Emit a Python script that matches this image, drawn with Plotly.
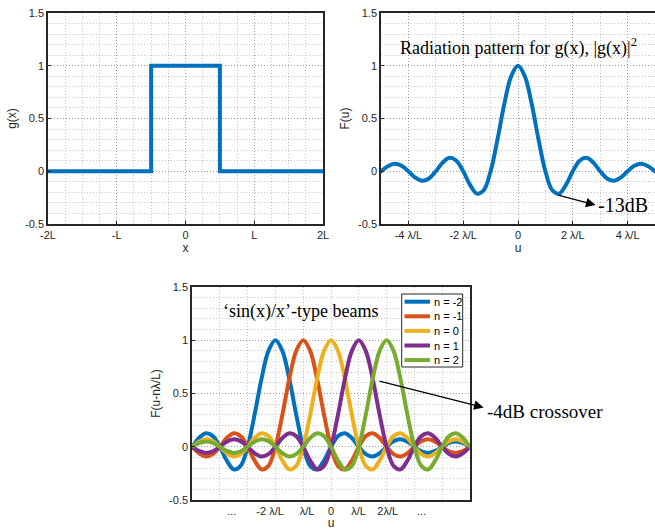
import plotly.graph_objects as go

# ---------------- data ----------------
# aperture g(x), x in units of L
g_x = [-2.0, -0.5, -0.5, 0.5, 0.5, 2.0]
g_y = [0.0, 0.0, 1.0, 1.0, 0.0, 0.0]
g_ticks = [-2, -1, 0, 1, 2]
g_ticktext = ["-2L", "-L", "0", "L", "2L"]

# radiation pattern F(u), u in units of lambda/L
u_samples = [-7.0, -6.75, -6.5, -6.25, -6.0, -5.75, -5.5, -5.25, -5.0, -4.75, -4.5, -4.25,
             -4.0, -3.75, -3.5, -3.25, -3.0, -2.75, -2.5, -2.25, -2.0, -1.75, -1.5, -1.25,
             -1.0, -0.75, -0.5, -0.25, 0.0, 0.25, 0.5, 0.75, 1.0, 1.25, 1.5, 1.75,
             2.0, 2.25, 2.5, 2.75, 3.0, 3.25, 3.5, 3.75, 4.0, 4.25, 4.5, 4.75,
             5.0, 5.25, 5.5, 5.75, 6.0, 6.25, 6.5, 6.75, 7.0]
F_values = [0.000, 0.033, 0.049, 0.036, 0.000, -0.039, -0.058, -0.043, 0.000, 0.047, 0.071, 0.053,
            0.000, -0.060, -0.091, -0.069, 0.000, 0.082, 0.127, 0.100, 0.000, -0.129, -0.212, -0.180,
            0.000, 0.300, 0.637, 0.900, 1.000, 0.900, 0.637, 0.300, 0.000, -0.180, -0.212, -0.129,
            0.000, 0.100, 0.127, 0.082, 0.000, -0.069, -0.091, -0.060, 0.000, 0.053, 0.071, 0.047,
            0.000, -0.043, -0.058, -0.039, 0.000, 0.036, 0.049, 0.033, 0.000]
F_ticks = [-4, -2, 0, 2, 4]
F_ticktext = ["-4 λ/L", "-2 λ/L", "0", "2 λ/L", "4 λ/L"]

# beams
beam_n = [-2, -1, 0, 1, 2]
beam_names = ["n = -2", "n = -1", "n = 0", "n = 1", "n = 2"]
beam_colors = ["#0072BD", "#D95319", "#EDB120", "#7E2F8E", "#77AC30"]
beam_ticks = [-3.57, -2.19, -0.86, 0, 0.99, 2.04, 3.26]
beam_ticktext = ["...", "-2 λ/L", "λ/L", "0", "λ/L", "2λ/L", "..."]

y_ticks = [-0.5, 0, 0.5, 1, 1.5]
y_ticktext = ["-0.5", "0", "0.5", "1", "1.5"]

# ---------------- figure ----------------
W, H = 655, 530
SANS = "Liberation Sans, Arial, sans-serif"
SERIF = "Liberation Serif, Times New Roman, serif"
AX = "#262626"
GRID = "rgba(0,0,0,0.22)"
GDASH = "1px,2px"
LW = 4

fig = go.Figure()

fig.add_trace(go.Scatter(x=g_x, y=g_y, mode="lines", xaxis="x", yaxis="y",
                         line=dict(color="#0072BD", width=LW), showlegend=False))
fig.add_trace(go.Scatter(x=u_samples, y=F_values, mode="lines", xaxis="x2", yaxis="y2",
                         line=dict(color="#0072BD", width=LW, shape="spline", smoothing=1),
                         showlegend=False))
for n, name, col in zip(beam_n, beam_names, beam_colors):
    fig.add_trace(go.Scatter(x=[u + n for u in u_samples], y=F_values, mode="lines",
                             xaxis="x3", yaxis="y3", name=name, showlegend=False,
                             line=dict(color=col, width=LW, shape="spline", smoothing=1)))


def px(xp):
    return min(xp / W, 1.0)


def py(yp):
    return 1 - yp / H


def px_dom(a, b):
    return [px(a), px(b)]


def ydom(top, bottom):
    return [py(bottom), py(top)]


common = dict(showline=True, mirror=True, linecolor=AX, linewidth=1.5, automargin=False,
              tickfont=dict(family=SANS, size=11, color=AX),
              zeroline=False, ticks="inside", ticklen=3, tickcolor=AX,
              showgrid=True, gridcolor=GRID, griddash=GDASH, gridwidth=1)


def minor(dt):
    return dict(dtick=dt, tick0=0, showgrid=True, gridcolor=GRID, griddash=GDASH, ticks="")


def yax(anchor, dom, title):
    return dict(common, anchor=anchor, domain=dom, range=[-0.5, 1.5],
                tickvals=y_ticks, ticktext=y_ticktext,
                title=dict(text=title, font=dict(family=SANS, size=12, color=AX), standoff=6),
                minor=minor(0.1))


def xtitle(t):
    return dict(text=t, font=dict(family=SANS, size=12, color=AX), standoff=3)


fig.update_layout(
    width=W, height=H, margin=dict(l=0, r=0, t=0, b=0),
    paper_bgcolor="white", plot_bgcolor="white", showlegend=False,
    xaxis=dict(common, anchor="y", domain=px_dom(48, 323), range=[-2, 2],
               tickvals=g_ticks, ticktext=g_ticktext, title=xtitle("x"), minor=minor(0.25)),
    yaxis=yax("x", ydom(13, 224), "g(x)"),
    xaxis2=dict(common, anchor="y2", domain=px_dom(381, 656), range=[-5, 5],
                tickvals=F_ticks, ticktext=F_ticktext, title=xtitle("u"), minor=minor(1)),
    yaxis2=yax("x2", ydom(13, 224), "F(u)"),
    xaxis3=dict(common, anchor="y3", domain=px_dom(192, 470), range=[-5, 5],
                tickvals=beam_ticks, ticktext=beam_ticktext, ticks="", showgrid=False,
                title=xtitle("u"), minor=minor(1)),
    yaxis3=yax("x3", ydom(287, 500), "F(u-nλ/L)"),
)

# legend box for the beams (drawn in paper space, compact like the original)
fig.add_shape(type="rect", xref="paper", yref="paper",
              x0=px(401.7), x1=px(462.7), y0=py(367), y1=py(294),
              line=dict(color=AX, width=1), fillcolor="white", layer="above")
for i, (name, col) in enumerate(zip(beam_names, beam_colors)):
    yc = 301.7 + i * 14.6
    fig.add_shape(type="line", xref="paper", yref="paper",
                  x0=px(404.5), x1=px(430), y0=py(yc), y1=py(yc),
                  line=dict(color=col, width=LW), layer="above")
    fig.add_annotation(x=px(431.5), y=py(yc), xref="paper", yref="paper",
                       xanchor="left", yanchor="middle", showarrow=False, text=name,
                       font=dict(family=SANS, size=11, color="black"))

ann_font = dict(family=SERIF, size=18, color="black")
fig.add_annotation(x=0, y=1.18, xref="x2", yref="y2", showarrow=False,
                   text="Radiation pattern for g(x), |g(x)|<sup>2</sup>", font=ann_font)
fig.add_annotation(x=2.83, y=-0.32, xref="x2", yref="y2", ax=1.41, ay=-0.222,
                   axref="x2", ayref="y2", text="", showarrow=True,
                   arrowhead=2, arrowsize=1.6, arrowwidth=1.2, arrowcolor="black")
fig.add_annotation(x=2.85, y=-0.32, xref="x2", yref="y2", showarrow=False,
                   xanchor="left", text="-13dB", font=dict(family=SERIF, size=20, color="black"))

fig.add_annotation(x=-1.1, y=1.27, xref="x3", yref="y3", showarrow=False,
                   text="‘sin(x)/x’-type beams", font=ann_font)
fig.add_annotation(x=5.49, y=0.368, xref="x3", yref="y3", ax=1.69, ay=0.62,
                   axref="x3", ayref="y3", text="", showarrow=True,
                   arrowhead=2, arrowsize=1.6, arrowwidth=1.2, arrowcolor="black")
fig.add_annotation(x=px(485), y=py(411), xref="paper", yref="paper", showarrow=False,
                   xanchor="left", yanchor="middle", text="-4dB crossover",
                   font=dict(family=SERIF, size=19, color="black"))

fig.write_html("out.html", config={"displayModeBar": False},
               post_script="document.body.style.margin='0';")
